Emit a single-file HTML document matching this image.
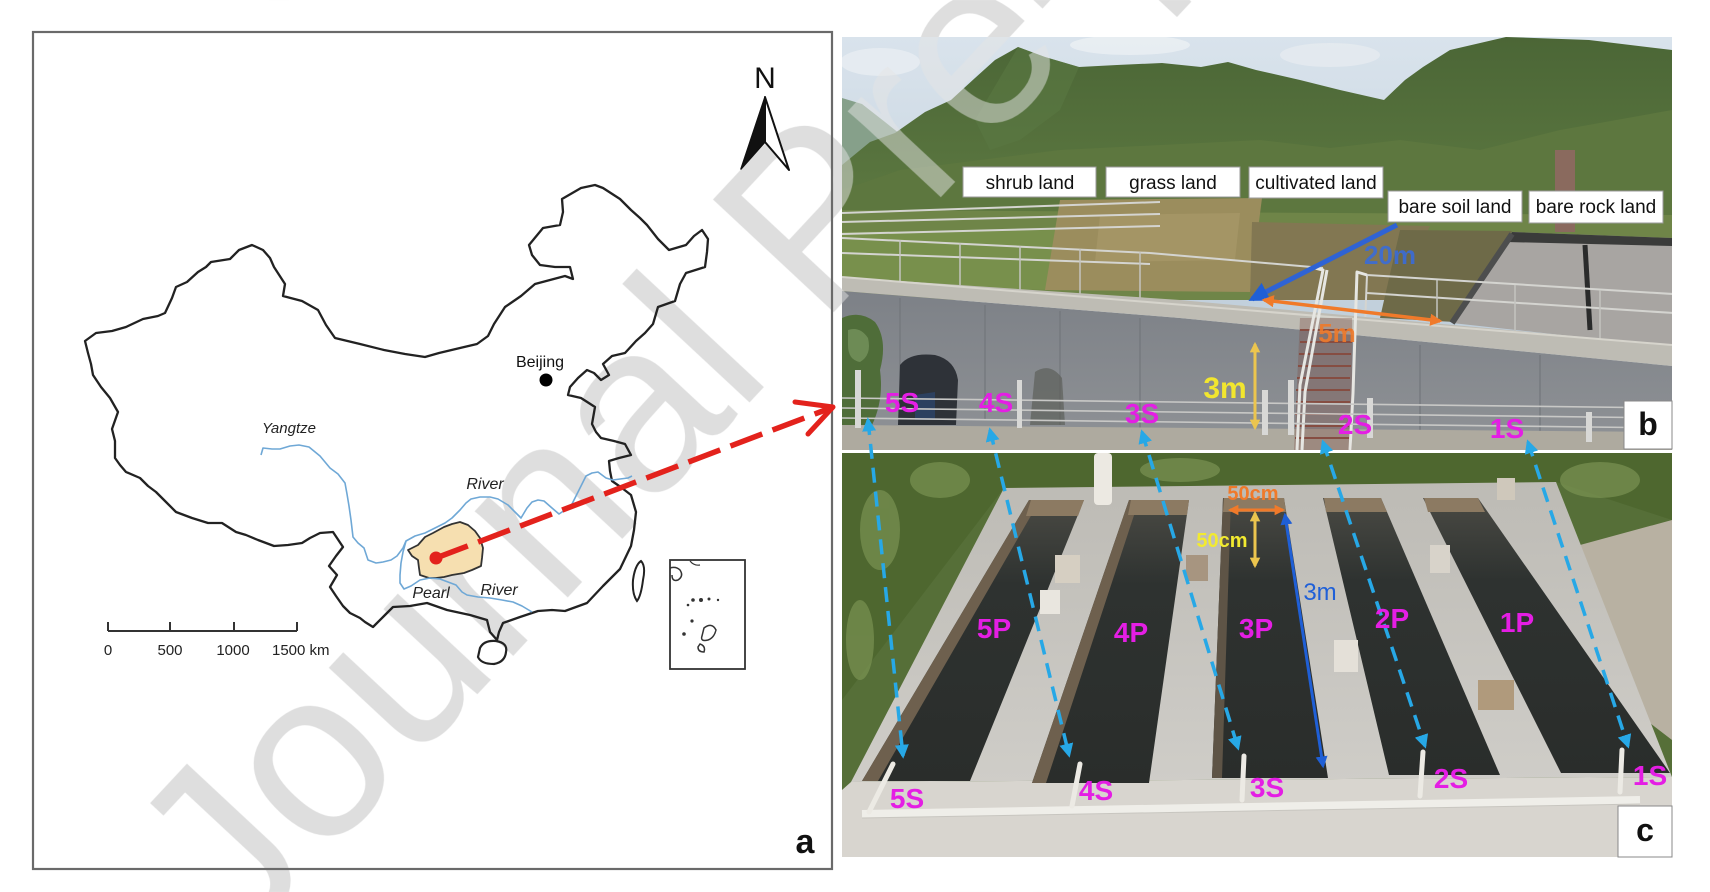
<!DOCTYPE html>
<html><head><meta charset="utf-8"><style>
html,body{margin:0;padding:0;background:#fff;width:1710px;height:892px;overflow:hidden;}
svg{display:block;overflow:hidden;}
text{font-family:"Liberation Sans",Arial,sans-serif;}
</style></head><body>
<svg width="1710" height="892" viewBox="0 0 1710 892" xmlns="http://www.w3.org/2000/svg">
<defs>
<linearGradient id="sky" x1="0" y1="0" x2="0" y2="1"><stop offset="0" stop-color="#d9e3ec"/><stop offset="1" stop-color="#b6c6d3"/></linearGradient>
<linearGradient id="mtn" x1="0" y1="0" x2="0" y2="1"><stop offset="0" stop-color="#4b6636"/><stop offset="0.6" stop-color="#5b7740"/><stop offset="1" stop-color="#6a8048"/></linearGradient>
<linearGradient id="wall" x1="0" y1="0" x2="0" y2="1"><stop offset="0" stop-color="#7d8187"/><stop offset="1" stop-color="#8f9296"/></linearGradient>
<linearGradient id="slab" x1="0" y1="0" x2="0" y2="1"><stop offset="0" stop-color="#bdbbb5"/><stop offset="1" stop-color="#cfcdc8"/></linearGradient>
<linearGradient id="trench" x1="0" y1="0" x2="0" y2="1"><stop offset="0" stop-color="#4a4a44"/><stop offset="0.3" stop-color="#2e3230"/><stop offset="1" stop-color="#2a2d2b"/></linearGradient>
<clipPath id="cb"><rect x="842" y="37" width="830" height="413"/></clipPath>
<clipPath id="cc"><rect x="842" y="453" width="830" height="404"/></clipPath>
<clipPath id="cphotos"><rect x="842" y="37" width="830" height="413"/><rect x="842" y="453" width="830" height="404"/></clipPath>
<pattern id="wmA" patternUnits="userSpaceOnUse" x="0" y="0" width="1710" height="892">
<text transform="translate(238,951) rotate(-47)" font-size="240" fill="#dedede" font-family="Liberation Sans, Arial, sans-serif">Journal Pre-proof</text>
</pattern>
<pattern id="wmB" patternUnits="userSpaceOnUse" x="0" y="0" width="1710" height="892">
<text transform="translate(238,951) rotate(-47)" font-size="240" fill="#e4e4e4" font-family="Liberation Sans, Arial, sans-serif">Journal Pre-proof</text>
</pattern>
<marker id="mb" viewBox="0 0 10 10" refX="8" refY="5" markerWidth="4" markerHeight="4" orient="auto-start-reverse"><path d="M0,0 L10,5 L0,10 z" fill="#27a8e6"/></marker>
<marker id="mdb" viewBox="0 0 10 10" refX="8" refY="5" markerWidth="4" markerHeight="4" orient="auto-start-reverse"><path d="M0,0 L10,5 L0,10 z" fill="#1f5fd6"/></marker>
<marker id="mor" viewBox="0 0 10 10" refX="8" refY="5" markerWidth="3.5" markerHeight="3.5" orient="auto-start-reverse"><path d="M0,0 L10,5 L0,10 z" fill="#f07a2a"/></marker>
<marker id="my" viewBox="0 0 10 10" refX="8" refY="5" markerWidth="3.5" markerHeight="3.5" orient="auto-start-reverse"><path d="M0,0 L10,5 L0,10 z" fill="#ecc54e"/></marker>
</defs>

<!-- watermark under map -->
<rect x="0" y="0" width="1710" height="892" fill="url(#wmA)"/>

<!-- ===== Panel a ===== -->
<rect x="33" y="32" width="799" height="837" fill="none" stroke="#6a6a6a" stroke-width="2.2"/>

<!-- North arrow -->
<text x="765" y="88" font-size="30" text-anchor="middle" fill="#111">N</text>
<polygon points="765,97 741,169 765,142" fill="#111" stroke="#111" stroke-width="1.5" stroke-linejoin="round"/>
<polygon points="765,97 789,170 765,142" fill="#fff" stroke="#111" stroke-width="2" stroke-linejoin="round"/>

<!-- China outline -->
<polygon fill="none" stroke="#222" stroke-width="2.3" stroke-linejoin="round" points="85,341 96,333 112,331 126,327 143,319 158,316 165,313 172,298 176,287 187,282 198,272 206,267 211,262 230,259 239,250 252,245 263,250 270,258 274,267 285,284 283,296 302,301 318,310 326,325 335,338 360,344 384,350 405,354 425,357 439,353 460,348 477,344 488,336 494,324 505,307 521,296 535,284 550,280 565,276 573,279 570,267 555,267 540,265 532,255 529,245 543,228 560,225 563,212 562,199 581,188 595,185 603,188 620,199 631,210 640,218 647,225 658,239 669,250 686,245 694,236 702,230 708,239 707,252 705,267 686,273 680,284 675,301 658,307 653,324 645,333 636,341 625,353 612,356 603,364 609,375 601,380 594,373 587,370 578,378 570,387 568,395 581,398 595,407 592,424 596,432 601,438 614,441 625,444 631,455 619,458 609,461 610,471 612,481 622,488 631,495 636,512 634,530 631,546 620,569 603,586 587,603 565,611 552,610 538,611 520,617 503,623 499,632 497,640 490,632 487,620 470,615 447,610 427,603 410,606 393,607 385,615 373,627 365,622 360,618 350,613 343,606 336,596 330,587 337,575 329,566 336,556 343,547 333,532 320,533 310,538 302,543 288,545 274,546 258,540 246,535 236,532 222,523 208,523 192,518 176,512 165,501 156,492 148,486 140,478 126,472 120,465 115,458 115,441 112,429 118,412 110,398 101,387 93,375 91,364 88,353"/>
<!-- Hainan -->
<path d="M480,648 Q484,640 496,641 Q508,643 506,652 Q505,662 494,664 Q481,664 478,657 Z" fill="none" stroke="#222" stroke-width="2.2"/>
<!-- Taiwan -->
<path d="M641,561 Q646,566 643,580 Q641,596 637,601 Q632,594 633,580 Q635,565 641,561 Z" fill="none" stroke="#222" stroke-width="2"/>

<!-- Guizhou -->
<polygon points="408,550 418,545 425,537 433,533 444,527 452,524 460,522 468,525 475,531 480,538 483,548 482,558 481,566 472,570 464,573 452,575 444,577 436,578 429,578 420,575 419,568 418,560 412,556" fill="#f6dfb0" stroke="#333" stroke-width="1.8" stroke-linejoin="round"/>

<!-- rivers -->
<polyline fill="none" stroke="#6fa8d6" stroke-width="1.6" stroke-linejoin="round" points="261,455 263,448 272,449 280,449 290,446 299,445 309,447 320,456 330,468 338,474 345,483 347,494 349,506 351,520 353,537 358,543 364,548 368,560 376,563 383,562 391,560 397,556 403,548 406,541 415,536 425,533 435,528 445,523 452,518 460,510 466,503 471,499 480,497 490,497 498,499 508,505 516,513 521,518 527,508 532,502 538,500 544,501 552,508 559,514 565,510 571,506 578,492 586,476 592,473 598,472 606,478 613,480 620,479 628,478 632,476"/>
<polyline fill="none" stroke="#6fa8d6" stroke-width="1.6" stroke-linejoin="round" points="406,541 403,552 401,563 400,575 400,583 404,589 411,586 420,580 430,578 440,579 448,582 456,585 462,592 467,595 478,597 490,598 502,600 513,602 522,606 532,612"/>

<!-- Beijing -->
<circle cx="546" cy="380" r="6.5" fill="#000"/>
<text x="540" y="367" font-size="16" text-anchor="middle" fill="#111">Beijing</text>
<text x="289" y="433" font-size="15" font-style="italic" text-anchor="middle" fill="#222">Yangtze</text>
<text x="485" y="489" font-size="16" font-style="italic" text-anchor="middle" fill="#222">River</text>
<text x="431" y="598" font-size="16" font-style="italic" text-anchor="middle" fill="#222">Pearl</text>
<text x="499" y="595" font-size="16" font-style="italic" text-anchor="middle" fill="#222">River</text>

<!-- scale bar -->
<g stroke="#333" stroke-width="2" fill="none">
<line x1="108" y1="631" x2="297" y2="631"/>
<line x1="108" y1="631" x2="108" y2="622"/>
<line x1="170" y1="631" x2="170" y2="622"/>
<line x1="234" y1="631" x2="234" y2="622"/>
<line x1="297" y1="631" x2="297" y2="622"/>
</g>
<g font-size="15" fill="#222">
<text x="108" y="655" text-anchor="middle">0</text>
<text x="170" y="655" text-anchor="middle">500</text>
<text x="233" y="655" text-anchor="middle">1000</text>
<text x="272" y="655">1500 km</text>
</g>

<!-- inset -->
<rect x="670" y="560" width="75" height="109" fill="none" stroke="#333" stroke-width="1.8"/>
<path d="M670,568 Q676,566 680,570 Q684,576 678,580 Q672,582 672,575" fill="none" stroke="#333" stroke-width="1.5"/>
<path d="M690,561 Q694,566 700,565" fill="none" stroke="#333" stroke-width="1.2"/>
<g fill="#333"><circle cx="693" cy="600" r="1.8"/><circle cx="701" cy="600" r="2"/><circle cx="709" cy="599" r="1.5"/><circle cx="688" cy="605" r="1.3"/><circle cx="692" cy="621" r="1.6"/><circle cx="684" cy="634" r="1.8"/><circle cx="718" cy="600" r="1.2"/></g>
<path d="M704,628 Q712,622 716,630 Q714,638 708,640 Q700,642 702,636 Z M700,644 Q706,646 704,652 Q698,652 698,647 Z" fill="none" stroke="#333" stroke-width="1.5"/>

<!-- red dashed arrow -->
<line x1="436" y1="558" x2="828" y2="409" stroke="#e3221c" stroke-width="5.5" stroke-dasharray="34 11"/>
<polyline points="795,402 833,407 808,434" fill="none" stroke="#e3221c" stroke-width="5" stroke-linecap="round" stroke-linejoin="round"/>
<circle cx="436" cy="558" r="6.5" fill="#e3221c"/>

<text x="805" y="853" font-size="34" font-weight="bold" text-anchor="middle" fill="#111">a</text>

<!-- ===== Panel b ===== -->
<g clip-path="url(#cb)">
<rect x="842" y="37" width="830" height="413" fill="url(#sky)"/>
<ellipse cx="880" cy="62" rx="40" ry="14" fill="#eef2f5" opacity="0.6"/>
<ellipse cx="1130" cy="45" rx="60" ry="10" fill="#eef2f5" opacity="0.7"/>
<ellipse cx="1330" cy="55" rx="50" ry="12" fill="#e8edf1" opacity="0.7"/>
<polygon points="842,98 862,104 885,122 905,138 842,165" fill="#86a08a"/>
<polygon points="842,165 870,142 895,133 925,112 951,100 975,78 995,60 1018,47 1045,57 1079,67 1117,65 1162,63 1201,67 1228,62 1256,70 1300,80 1340,90 1384,100 1405,80 1423,67 1450,50 1506,37 1589,40 1672,50 1672,300 842,300" fill="url(#mtn)"/>
<polygon points="1018,47 1045,57 1079,67 1060,110 1020,140 990,150 975,120" fill="#5a7842" opacity="0.6"/>
<polygon points="842,190 900,170 980,160 1060,150 1160,145 1260,140 1330,148 1400,140 1480,150 1560,130 1672,110 1672,300 842,300" fill="#5d773f"/>
<!-- fields -->
<polygon points="842,210 1672,215 1672,300 842,300" fill="#6f8548"/>
<polygon points="842,232 1060,230 1050,290 842,285" fill="#78904c"/>
<polygon points="1060,200 1262,198 1250,292 1045,290" fill="#9b8d5d"/>
<polygon points="1100,215 1240,213 1235,260 1095,262" fill="#a8996a" opacity="0.7"/>
<polygon points="1252,222 1430,226 1396,300 1250,300" fill="#827752"/>
<polygon points="1400,230 1512,231 1455,322 1380,318" fill="#6e6a48"/>
<!-- bare rock -->
<polygon points="1512,232 1672,238 1672,347 1452,323" fill="#a8a5a2"/>
<polygon points="1512,232 1672,238 1672,246 1506,242" fill="#3a3b3a"/>
<line x1="1512" y1="234" x2="1452" y2="323" stroke="#4d4e4e" stroke-width="6"/>
<line x1="1585" y1="245" x2="1590" y2="330" stroke="#2a2b2b" stroke-width="5"/>
<!-- walkway at top right -->
<polygon points="1555,150 1575,150 1575,232 1555,232" fill="#8a6a5e"/>
<!-- railings upper -->
<g stroke="#d4d4d0" stroke-width="2" fill="none">
<line x1="842" y1="213" x2="1160" y2="202"/>
<line x1="842" y1="222" x2="1160" y2="214"/>
<line x1="842" y1="234" x2="1160" y2="226"/>
<line x1="842" y1="238" x2="1150" y2="253"/>
<line x1="842" y1="253" x2="1150" y2="264"/>
<line x1="1150" y1="253" x2="1323" y2="268"/>
<line x1="1367" y1="275" x2="1673" y2="294"/>
<line x1="1367" y1="293" x2="1673" y2="313"/>
<line x1="1367" y1="275" x2="1362" y2="398"/>
</g>
<g stroke="#c4c4c0" stroke-width="1.5">
<line x1="900" y1="240" x2="900" y2="282"/><line x1="960" y1="243" x2="960" y2="286"/><line x1="1020" y1="246" x2="1020" y2="290"/><line x1="1080" y1="249" x2="1080" y2="294"/><line x1="1140" y1="252" x2="1140" y2="298"/>
<line x1="1437" y1="280" x2="1437" y2="335"/><line x1="1515" y1="285" x2="1515" y2="342"/><line x1="1600" y1="290" x2="1600" y2="350"/>
</g>
<!-- ledge & wall -->
<polygon points="842,291 1180,318 1672,366 1672,450 842,450" fill="url(#wall)"/>
<polygon points="842,277 1180,300 1672,345 1672,366 1180,318 842,291" fill="#bebcb4"/>
<line x1="842" y1="277" x2="1672" y2="345" stroke="#d6d4cc" stroke-width="2"/>
<g stroke="#72767b" stroke-width="1.2">
<line x1="900" y1="298" x2="900" y2="420"/><line x1="985" y1="305" x2="985" y2="420"/><line x1="1060" y1="311" x2="1060" y2="425"/><line x1="1140" y1="318" x2="1140" y2="428"/><line x1="1420" y1="345" x2="1420" y2="435"/><line x1="1540" y1="355" x2="1540" y2="438"/>
</g>
<polygon points="842,425 1672,432 1672,450 842,450" fill="#aeaa9f"/>
<!-- shrub left -->
<path d="M842,318 Q860,310 875,322 Q888,340 880,370 Q884,400 872,425 L842,425 Z" fill="#4f6d39"/>
<path d="M848,330 Q860,326 868,338 Q872,355 860,362 Q848,360 848,345 Z" fill="#6d8b55"/>
<!-- dark bag -->
<path d="M900,365 Q910,352 935,355 Q955,360 958,380 L956,425 L898,425 Z" fill="#2e3238"/>
<path d="M915,395 L935,392 L935,420 L915,420 Z" fill="#2b4a7a" opacity="0.6"/>
<!-- shrub 3S -->
<path d="M1035,372 Q1050,362 1062,378 L1065,425 L1030,425 Z" fill="#5c605a" opacity="0.7"/>
<!-- stairs -->
<g stroke="#8a4c40" stroke-width="2">
<line x1="1300" y1="330" x2="1352" y2="330"/><line x1="1300" y1="342" x2="1352" y2="342"/><line x1="1299" y1="354" x2="1351" y2="354"/><line x1="1298" y1="366" x2="1351" y2="366"/><line x1="1297" y1="378" x2="1350" y2="378"/><line x1="1296" y1="390" x2="1350" y2="390"/><line x1="1296" y1="402" x2="1350" y2="402"/><line x1="1295" y1="414" x2="1349" y2="414"/><line x1="1295" y1="426" x2="1349" y2="426"/><line x1="1295" y1="438" x2="1349" y2="438"/>
</g>
<polygon points="1300,318 1352,318 1352,450 1294,450" fill="#7e5048" opacity="0.35"/>
<g stroke="#e6e6e2" stroke-width="3" fill="none" stroke-linejoin="round">
<polyline points="1315,268 1323,270 1300,385 1297,450"/>
<polyline points="1367,275 1357,272 1353,393 1350,450"/>
<polyline points="1327,270 1305,392 1302,450"/>
</g>
<!-- bottom fence -->
<g stroke="#c8c8c6" stroke-width="1.6">
<line x1="842" y1="398" x2="1672" y2="408"/><line x1="842" y1="408" x2="1672" y2="418"/><line x1="842" y1="418" x2="1672" y2="428"/>
</g>
<g fill="#d8d8d6">
<rect x="855" y="370" width="6" height="58"/><rect x="1017" y="380" width="5" height="48"/><rect x="1262" y="390" width="6" height="45"/><rect x="1288" y="380" width="6" height="55"/><rect x="1367" y="398" width="6" height="40"/><rect x="1586" y="412" width="6" height="30"/>
</g>
</g>

<!-- ===== Panel c ===== -->
<g clip-path="url(#cc)">
<rect x="842" y="453" width="830" height="404" fill="#566f38"/>
<path d="M842,453 L1672,453 L1672,520 L1556,482 L1004,488 L842,700 Z" fill="#4e672f"/>
<g fill="#7a9352" opacity="0.7">
<ellipse cx="880" cy="530" rx="20" ry="40"/><ellipse cx="940" cy="480" rx="30" ry="18"/><ellipse cx="860" cy="640" rx="14" ry="40"/><ellipse cx="1600" cy="480" rx="40" ry="18"/><ellipse cx="1180" cy="470" rx="40" ry="12"/>
</g>
<polygon points="1580,545 1672,520 1672,740 1620,700" fill="#b8b1a2"/>
<!-- slab -->
<polygon points="1004,488 1556,482 1672,777 851,782" fill="url(#slab)"/>
<polygon points="851,782 1672,777 1672,857 842,857 842,790" fill="#d8d5cf"/>
<!-- trenches -->
<polygon points="1029,500 1084,500 970,781 862,781" fill="url(#trench)"/>
<polygon points="1029,500 1040,500 878,781 862,781" fill="#6e604e"/>
<polygon points="1129,500 1189,500 1149,783 1032,783" fill="url(#trench)"/>
<polygon points="1129,500 1139,500 1046,783 1032,783" fill="#6e604e"/>
<polygon points="1223,498 1284,498 1328,778 1212,778" fill="url(#trench)"/>
<polygon points="1223,498 1231,498 1222,778 1212,778" fill="#5e5446"/>
<polygon points="1323,498 1381,498 1500,775 1389,775" fill="url(#trench)"/>
<polygon points="1423,498 1478,498 1670,773 1561,773" fill="url(#trench)"/>
<g fill="#8c7a62">
<polygon points="1031,500 1084,500 1078,516 1026,516"/>
<polygon points="1131,500 1189,500 1187,515 1128,515"/>
<polygon points="1224,498 1284,498 1286,512 1223,512"/>
<polygon points="1324,498 1381,498 1387,512 1326,512"/>
<polygon points="1424,498 1478,498 1485,512 1428,512"/>
</g>
<!-- objects -->
<rect x="1094" y="453" width="18" height="52" rx="4" fill="#ece9e2"/>
<rect x="1055" y="555" width="25" height="28" fill="#d6cfc2"/>
<rect x="1040" y="590" width="20" height="24" fill="#e9e6df"/>
<rect x="1186" y="555" width="22" height="26" fill="#a79580"/>
<rect x="1334" y="640" width="24" height="32" fill="#e4e0d8"/>
<rect x="1430" y="545" width="20" height="28" fill="#d8d3ca"/>
<rect x="1478" y="680" width="36" height="30" fill="#b09a7c"/>
<rect x="1497" y="478" width="18" height="22" fill="#cfc8bb"/>
<!-- pipes front -->
<line x1="862" y1="814" x2="1640" y2="800" stroke="#efeee9" stroke-width="8"/>
<line x1="862" y1="818" x2="1640" y2="804" stroke="#c8c6c0" stroke-width="1"/>
<g stroke="#eceae4" stroke-width="5" stroke-linecap="round">
<line x1="893" y1="764" x2="869" y2="812"/><line x1="1080" y1="764" x2="1072" y2="806"/><line x1="1244" y1="756" x2="1242" y2="800"/><line x1="1423" y1="752" x2="1420" y2="796"/><line x1="1622" y1="750" x2="1620" y2="792"/>
</g>
</g>

<!-- watermark over photos -->
<rect x="842" y="37" width="830" height="413" fill="url(#wmB)" opacity="0.5"/>
<rect x="842" y="453" width="830" height="404" fill="url(#wmB)" opacity="0.5"/>

<!-- b annotations -->
<g font-size="19" fill="#111" text-anchor="middle">
<rect x="963" y="167" width="133" height="30" fill="#fff" stroke="#9a9a9a" stroke-width="1"/>
<text x="1030" y="189">shrub land</text>
<rect x="1106" y="167" width="134" height="30" fill="#fff" stroke="#9a9a9a" stroke-width="1"/>
<text x="1173" y="189">grass land</text>
<rect x="1249" y="167" width="134" height="31" fill="#fff" stroke="#9a9a9a" stroke-width="1"/>
<text x="1316" y="189">cultivated land</text>
<rect x="1388" y="191" width="134" height="31" fill="#fff" stroke="#9a9a9a" stroke-width="1"/>
<text x="1455" y="213">bare soil land</text>
<rect x="1529" y="191" width="134" height="32" fill="#fff" stroke="#9a9a9a" stroke-width="1"/>
<text x="1596" y="213">bare rock land</text>
</g>
<line x1="1397" y1="225" x2="1252" y2="299" stroke="#2f63d4" stroke-width="5" marker-end="url(#mdb)"/>
<text x="1390" y="264" font-size="26" font-weight="bold" text-anchor="middle" fill="#3a6cd8" opacity="0.9">20m</text>
<line x1="1264" y1="300" x2="1440" y2="321" stroke="#f07a2a" stroke-width="3.5" marker-start="url(#mor)" marker-end="url(#mor)"/>
<text x="1337" y="342" font-size="26" font-weight="bold" text-anchor="middle" fill="#f07a2a" opacity="0.9">5m</text>
<line x1="1255" y1="344" x2="1255" y2="428" stroke="#ecc54e" stroke-width="3" marker-start="url(#my)" marker-end="url(#my)"/>
<text x="1225" y="398" font-size="30" font-weight="bold" text-anchor="middle" fill="#f2e62e">3m</text>

<!-- blue dashed connectors -->
<g stroke="#27a8e6" stroke-width="3.5" stroke-dasharray="15 9" fill="none" marker-start="url(#mb)" marker-end="url(#mb)">
<line x1="868" y1="420" x2="903" y2="756"/>
<line x1="990" y1="430" x2="1069" y2="755"/>
<line x1="1142" y1="432" x2="1238" y2="748"/>
<line x1="1323" y1="442" x2="1425" y2="746"/>
<line x1="1528" y1="442" x2="1628" y2="746"/>
</g>

<g font-size="28" font-weight="bold" fill="#e41ee4" text-anchor="middle">
<text x="902" y="412">5S</text>
<text x="996" y="412">4S</text>
<text x="1142" y="423">3S</text>
<text x="1355" y="434">2S</text>
<text x="1507" y="438">1S</text>
<text x="994" y="638">5P</text>
<text x="1131" y="642">4P</text>
<text x="1256" y="638">3P</text>
<text x="1392" y="628">2P</text>
<text x="1517" y="632">1P</text>
<text x="907" y="808">5S</text>
<text x="1096" y="800">4S</text>
<text x="1267" y="797">3S</text>
<text x="1451" y="788">2S</text>
<text x="1650" y="785">1S</text>
</g>

<!-- c annotations -->
<line x1="1230" y1="510" x2="1283" y2="510" stroke="#f07a2a" stroke-width="3" marker-start="url(#mor)" marker-end="url(#mor)"/>
<text x="1253" y="500" font-size="20" font-weight="bold" text-anchor="middle" fill="#f07a2a">50cm</text>
<line x1="1255" y1="513" x2="1255" y2="566" stroke="#ecc54e" stroke-width="3" marker-start="url(#my)" marker-end="url(#my)"/>
<text x="1222" y="547" font-size="20" font-weight="bold" text-anchor="middle" fill="#f2ea30">50cm</text>
<line x1="1285" y1="515" x2="1323" y2="766" stroke="#1f5fd6" stroke-width="3" marker-start="url(#mdb)" marker-end="url(#mdb)"/>
<text x="1320" y="600" font-size="24" text-anchor="middle" fill="#1f60d8">3m</text>

<!-- panel letters -->
<rect x="1624" y="401" width="48" height="48" fill="#fff" stroke="#888" stroke-width="1"/>
<text x="1648" y="435" font-size="32" font-weight="bold" text-anchor="middle" fill="#111">b</text>
<rect x="1618" y="806" width="54" height="51" fill="#fff" stroke="#888" stroke-width="1"/>
<text x="1645" y="841" font-size="32" font-weight="bold" text-anchor="middle" fill="#111">c</text>
</svg>
</body></html>
